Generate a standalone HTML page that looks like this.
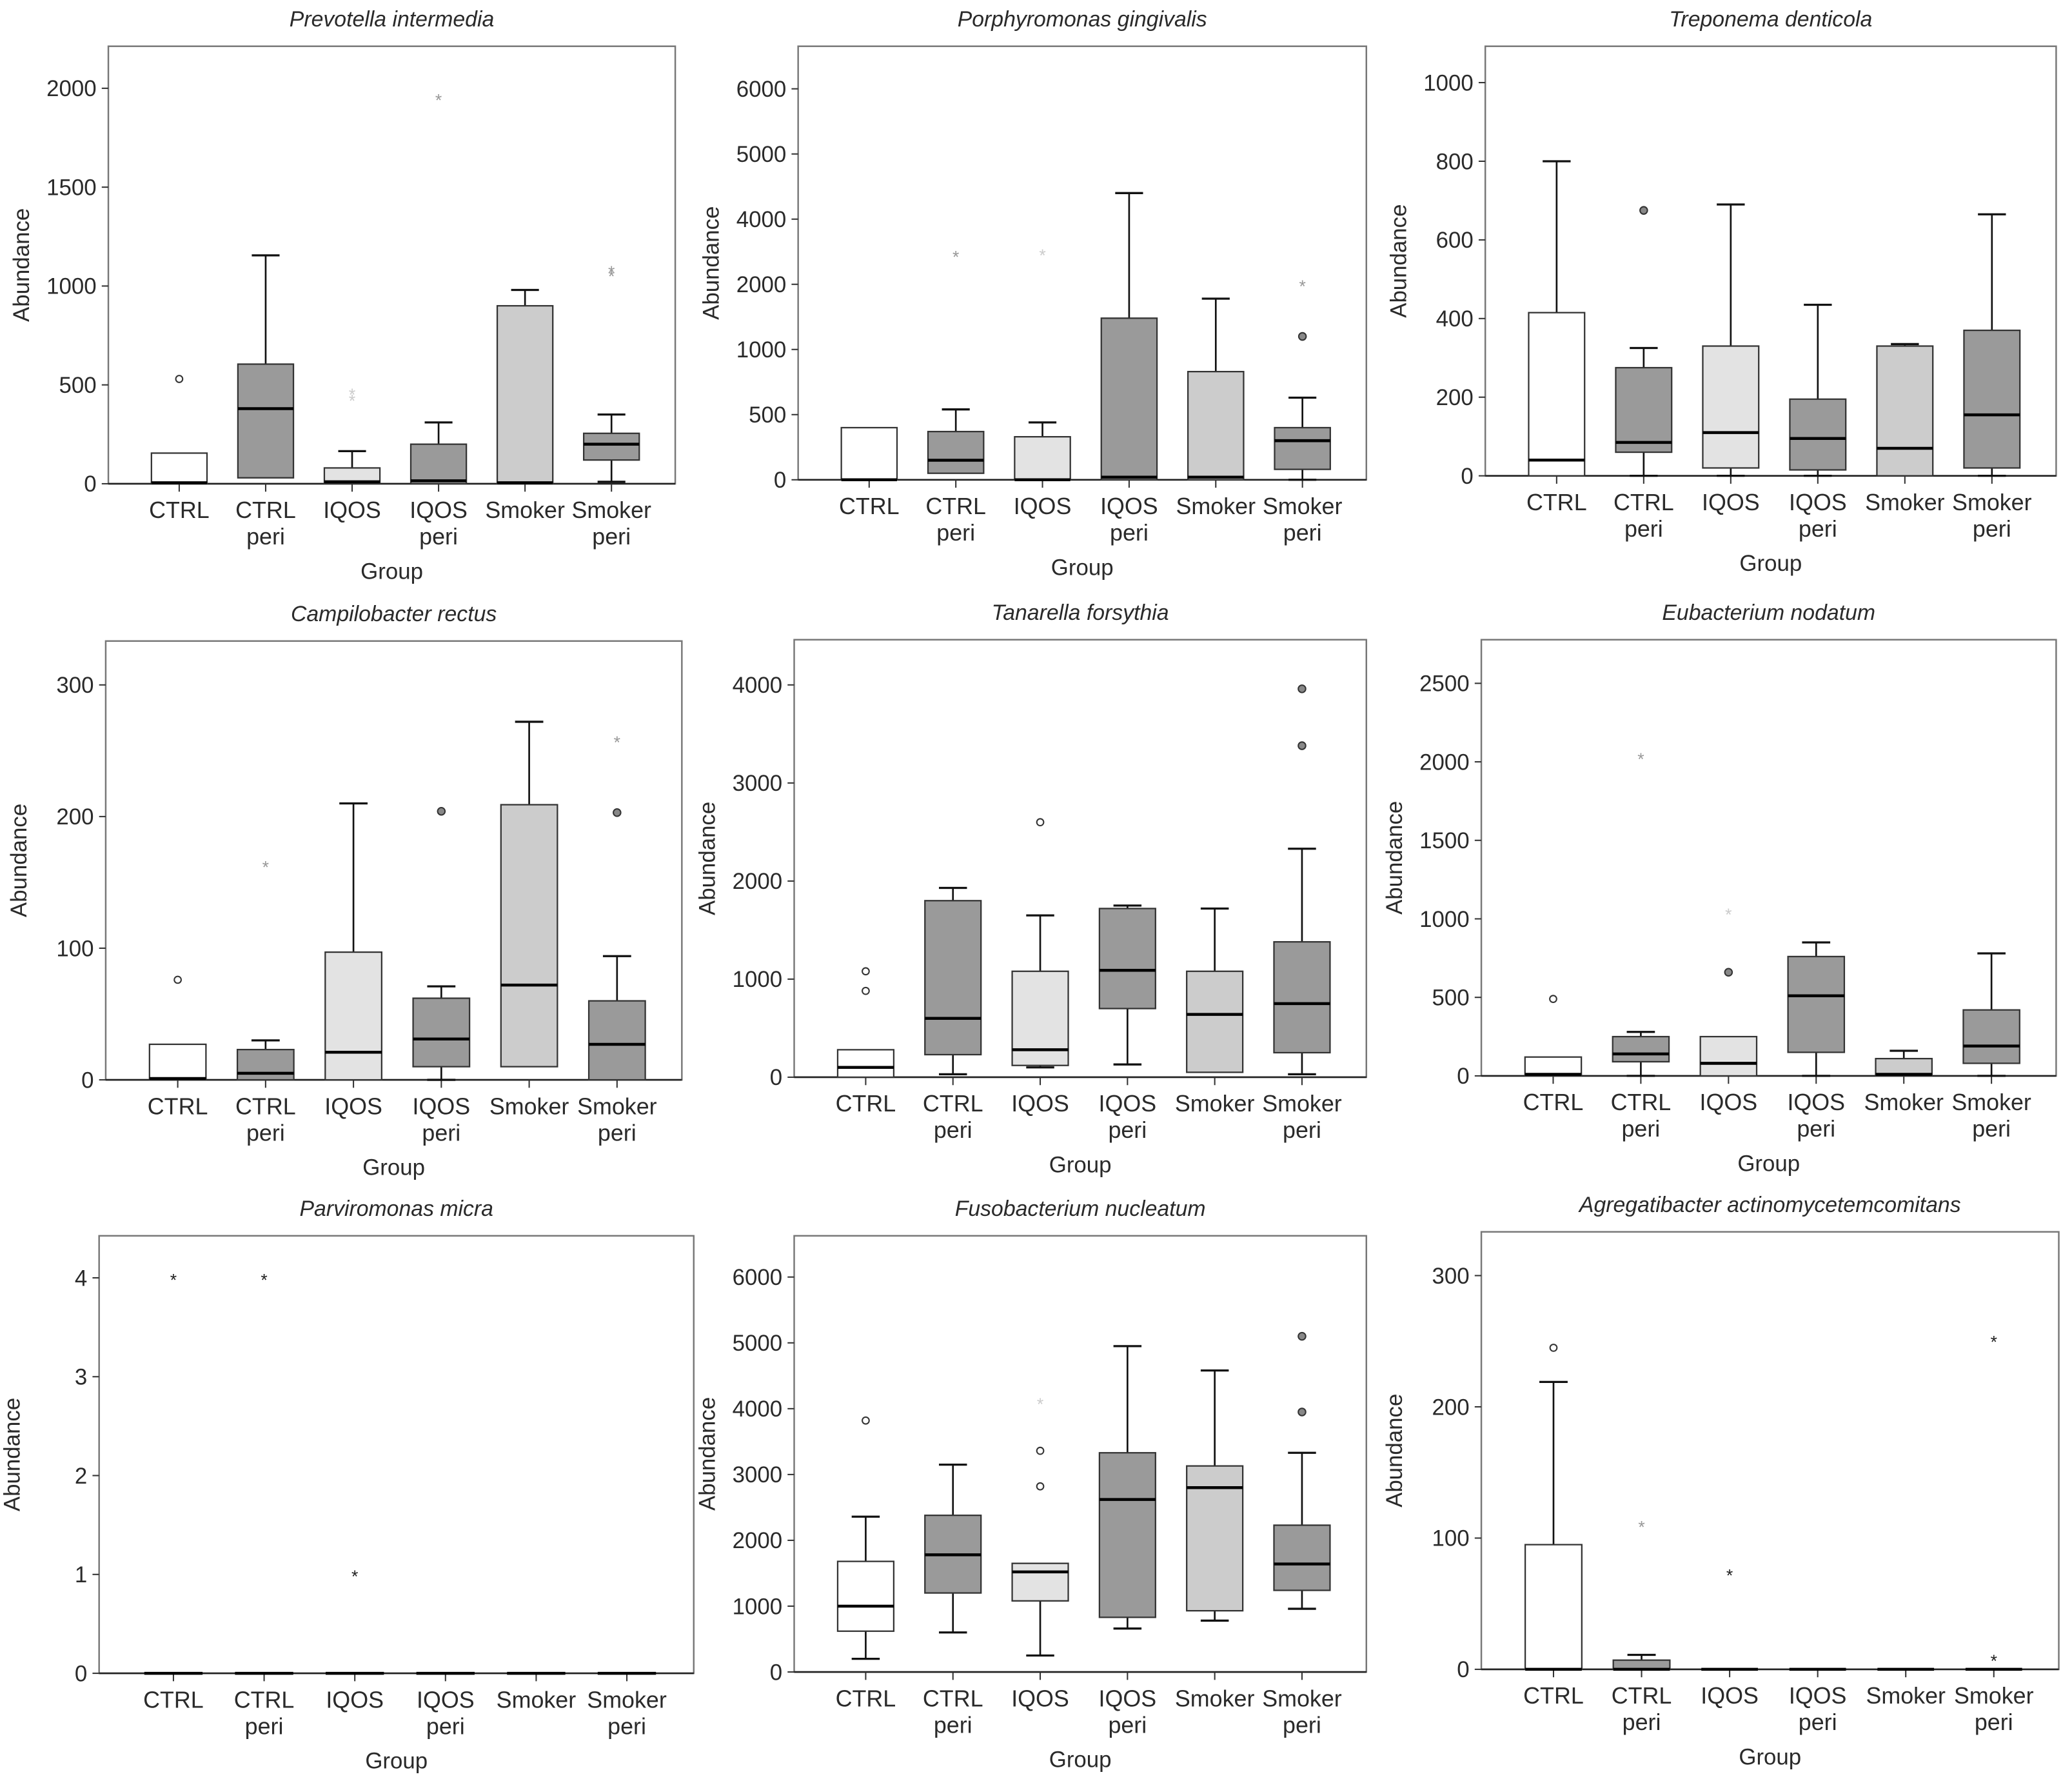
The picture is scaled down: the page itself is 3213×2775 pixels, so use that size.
<!DOCTYPE html>
<html><head><meta charset="utf-8"><style>
html,body{margin:0;padding:0;background:#fff}
svg{display:block}
text{font-family:"Liberation Sans",sans-serif;fill:#2a2a2a}
</style></head><body>
<svg id="chart" xmlns="http://www.w3.org/2000/svg" width="3213" height="2775" viewBox="0 0 1568 1354.3" preserveAspectRatio="none"></svg>
<script>
const categories=["CTRL","CTRL\nperi","IQOS","IQOS\nperi","Smoker","Smoker\nperi"];
const fills=["#ffffff","#9a9a9a","#e3e3e3","#9a9a9a","#cccccc","#9a9a9a"];
// per panel: stats [min,q1,med,q3,max] for each category
const titles=["Prevotella intermedia","Porphyromonas gingivalis","Treponema denticola","Campilobacter rectus","Tanarella forsythia","Eubacterium nodatum","Parviromonas micra","Fusobacterium nucleatum","Agregatibacter actinomycetemcomitans"];
const ticks=[[0,500,1000,1500,2000],[0,500,1000,2000,4000,5000,6000],[0,200,400,600,800,1000],[0,100,200,300],[0,1000,2000,3000,4000],[0,500,1000,1500,2000,2500],[0,1,2,3,4],[0,1000,2000,3000,4000,5000,6000],[0,100,200,300]];
const stats=[
[[0,0,5,155,155],[30,30,380,605,1155],[0,0,10,80,165],[0,0,15,200,310],[0,0,5,900,980],[10,120,200,255,350]],
[[0,0,0,400,400],[50,50,150,370,540],[0,0,0,330,440],[0,0,20,1480,4400],[0,0,20,830,1780],[0,80,300,400,630]],
[[0,0,40,415,800],[0,60,85,275,325],[0,20,110,330,690],[0,15,95,195,435],[0,0,70,330,335],[0,20,155,370,665]],
[[0,0,1,27,27],[0,0,5,23,30],[0,0,21,97,210],[0,10,31,62,71],[10,10,72,209,272],[0,0,27,60,94]],
[[0,0,100,280,280],[30,230,600,1800,1930],[100,120,280,1080,1650],[130,700,1090,1720,1750],[50,50,640,1080,1720],[30,250,750,1380,2330]],
[[0,0,10,120,120],[0,90,140,250,280],[0,0,80,250,250],[0,150,510,760,850],[0,0,10,110,160],[0,80,190,420,780]],
[[0,0,0,0,0],[0,0,0,0,0],[0,0,0,0,0],[0,0,0,0,0],[0,0,0,0,0],[0,0,0,0,0]],
[[200,620,1000,1680,2360],[600,1200,1780,2380,3150],[250,1080,1520,1650,1650],[660,830,2620,3330,4950],[780,930,2800,3130,4580],[960,1240,1640,2230,3330]],
[[0,0,0,95,219],[0,0,0,7,11],[0,0,0,0,0],[0,0,0,0,0],[0,0,0,0,0],[0,0,0,0,0]]];
// outliers: [categoryIndex, value, kind] kind: o open circle, f filled circle, s star, l light star
const outliers=[
[[0,530,"o"],[2,430,"l"],[2,460,"l"],[3,1950,"s"],[5,1060,"s"],[5,1080,"s"]],
[[1,2900,"s"],[2,2950,"l"],[5,1200,"f"],[5,2000,"s"]],
[[1,675,"f"]],
[[0,76,"o"],[1,163,"s"],[3,204,"f"],[5,203,"f"],[5,258,"s"]],
[[0,880,"o"],[0,1080,"o"],[2,2600,"o"],[5,3380,"f"],[5,3960,"f"]],
[[0,490,"o"],[1,2030,"s"],[2,660,"f"],[2,1040,"l"]],
[[0,4,"k"],[1,4,"k"],[2,1,"k"]],
[[0,3820,"o"],[2,2820,"o"],[2,3360,"o"],[2,4100,"l"],[5,3950,"f"],[5,5100,"f"]],
[[0,245,"o"],[1,110,"s"],[2,73,"k"],[5,251,"k"],[5,8,"k"]]];
// layout: box x0,x1,top,bottom(zero), tick step px
const layout=[[82,511,35,366,74.8],[604,1034,35,363,49.3],[1124,1556,35,360,59.5],
[80,516,485,817,99.6],[601,1034,484,815,74.2],[1121,1556,484,814,59.4],
[75,525,935,1266,74.8],[601,1034,935,1265,49.8],[1121,1558,932,1263,99.3]];
const svg=document.getElementById('chart');
const NS="http://www.w3.org/2000/svg";
function mk(tag,attrs,parent){const e=document.createElementNS(NS,tag);for(const k in attrs)e.setAttribute(k,attrs[k]);(parent||svg).appendChild(e);return e;}
function yScale(p,v){const t=ticks[p],L=layout[p];let i=0;while(i<t.length-2&&v>t[i+1])i++;const f=(v-t[i])/(t[i+1]-t[i]);return L[3]-(i+f)*L[4];}
function xScale(p,i){const L=layout[p],w=L[1]-L[0];return L[0]+w*(0.125+i*0.1525);}
for(let p=0;p<9;p++){
  const L=layout[p],w=L[1]-L[0];
  const g=mk('g',{});
  
  
  const tt=mk('text',{x:(L[0]+L[1])/2,y:L[2]-15,'text-anchor':'middle','font-size':16.5,'font-style':'italic'},g);tt.textContent=titles[p];
  
  
  const fr=mk('rect',{x:L[0],y:L[2],width:w,height:L[3]-L[2],fill:'none',stroke:'#777','stroke-width':1.2},g);
  
  
  mk('line',{x1:L[0],x2:L[1],y1:L[3],y2:L[3],stroke:'#222','stroke-width':1.3},g);
  ticks[p].forEach(v=>{const y=yScale(p,v);mk('line',{x1:L[0]-5,x2:L[0],y1:y,y2:y,stroke:'#333','stroke-width':1},g);
    const t=mk('text',{x:L[0]-9,y:y+6,'text-anchor':'end','font-size':17},g);t.textContent=v;
    
    });
  const yl=mk('text',{x:0,y:0,'text-anchor':'middle','font-size':17,transform:`translate(${L[0]-60},${(L[2]+L[3])/2}) rotate(-90)`},g);yl.textContent='Abundance';
  
  
  const xl=mk('text',{x:(L[0]+L[1])/2,y:L[3]+72,'text-anchor':'middle','font-size':17},g);xl.textContent='Group';
  
  
  const bw=w*0.098,cw=bw*0.5;
  categories.forEach((c,i)=>{
    const x=xScale(p,i);
    mk('line',{x1:x,x2:x,y1:L[3],y2:L[3]+6,stroke:'#333','stroke-width':1},g);
    c.split('\n').forEach((s,k)=>{const t=mk('text',{x:x,y:L[3]+26+k*20,'text-anchor':'middle','font-size':17.5},g);t.textContent=s;
      
      });
    const s=stats[p][i];
    const [ymin,yq1,ymed,yq3,ymax]=s.map(v=>yScale(p,v));
    const bg=mk('g',{},g);
    
    
    if(s[4]>s[3]){mk('line',{x1:x,x2:x,y1:yq3,y2:ymax,stroke:'#111','stroke-width':1.3},bg);mk('line',{x1:x-cw/2,x2:x+cw/2,y1:ymax,y2:ymax,stroke:'#111','stroke-width':1.6},bg);}
    if(s[0]<s[1]){mk('line',{x1:x,x2:x,y1:yq1,y2:ymin,stroke:'#111','stroke-width':1.3},bg);mk('line',{x1:x-cw/2,x2:x+cw/2,y1:ymin,y2:ymin,stroke:'#111','stroke-width':1.6},bg);}
    if(s[3]>s[1])mk('rect',{x:x-bw/2,y:yq3,width:bw,height:Math.max(yq1-yq3,0.5),fill:fills[i],stroke:'#333','stroke-width':1.1},bg);
    mk('line',{x1:x-bw/2,x2:x+bw/2,y1:ymed,y2:ymed,stroke:'#000','stroke-width':2.2},bg);
  });
  outliers[p].forEach(o=>{
    const x=xScale(p,o[0]),y=yScale(p,o[1]);let e;
    if(o[2]=='o')e=mk('circle',{cx:x,cy:y,r:2.6,fill:'#fff',stroke:'#333','stroke-width':1},g);
    else if(o[2]=='f')e=mk('circle',{cx:x,cy:y,r:2.8,fill:'#888',stroke:'#333','stroke-width':1},g);
    else{const col=o[2]=='k'?'#222':(o[2]=='s'?'#999':'#ccc');e=mk('text',{x:x,y:y+6,'text-anchor':'middle','font-size':13,style:'fill:'+col},g);e.textContent='*';}
    
    
  });
}
</script>
</body></html>
